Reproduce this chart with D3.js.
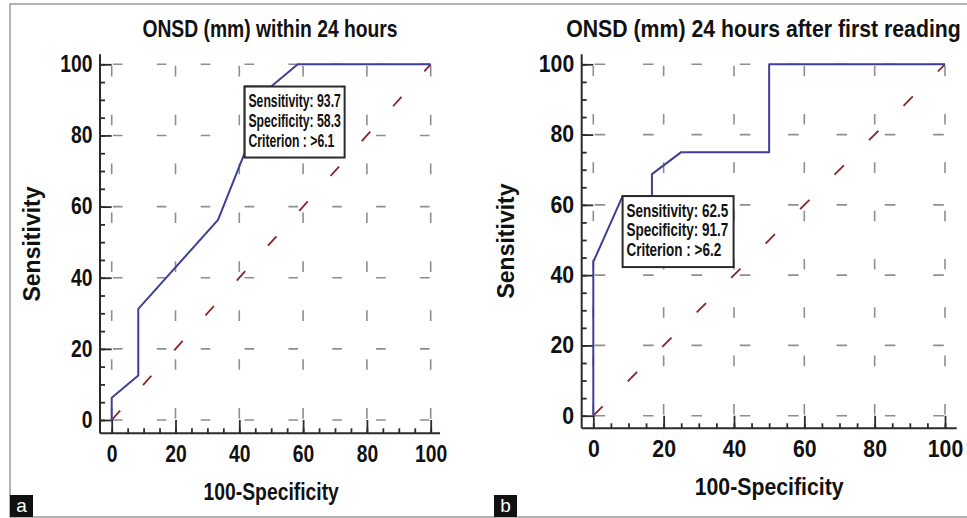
<!DOCTYPE html>
<html>
<head>
<meta charset="utf-8">
<script src="https://cdn.jsdelivr.net/npm/d3@7"></script>
<style>
  body { margin: 0; background: #fff; }
  svg { display: block; }
</style>
</head>
<body>
<script>
// ROC points (100-specificity, sensitivity)
const fprA = [0, 0, 8.33, 8.33, 33.33, 41.67, 41.67, 50, 58.33, 100];
const sensA = [0, 6.25, 12.5, 31.25, 56.25, 75, 93.75, 93.75, 100, 100];
const fprB = [0, 0, 8.33, 16.67, 16.67, 25, 50, 50, 100];
const sensB = [0, 43.75, 62.5, 62.5, 68.75, 75, 75, 100, 100];

const titles = ["ONSD (mm) within 24 hours", "ONSD (mm) 24 hours after first reading"];
const panelLetters = ["a", "b"];
const critA = [41.67, 93.75];
const critB = [8.33, 62.5];
const boxTextA = ["Sensitivity: 93.7", "Specificity: 58.3", "Criterion : >6.1"];
const boxTextB = ["Sensitivity: 62.5", "Specificity: 91.7", "Criterion : >6.2"];
const majorTicks = [0, 20, 40, 60, 80, 100];
const minorTicks = d3.range(0, 101, 5);
const diagonal = [0, 100];
const xTitle = "100-Specificity";
const yTitle = "Sensitivity";

const width = 967;
const height = 518;
const font = "'Liberation Sans', Arial, sans-serif";

const svg = d3
  .select("body")
  .append("svg")
  .attr("width", width)
  .attr("height", height);

// outer frame (no right edge visible)
svg.append("path")
  .attr("d", "M980,4H10V517H980")
  .attr("fill", "none")
  .attr("stroke", "#9a9a9a")
  .attr("stroke-width", 1.5);

const layout = [
  { left: 100, x0: 111.7, x100: 430.7, right: 440, y100: 64.3, y0: 420, bottom: 433.3,
    sx: 0.84, boxSx: 0.68, boxW: 100, titleX: 270, yTitleX: 40, yTitleY: 244, xTitleY: 500, letterX: 10 },
  { left: 581.7, x0: 593.3, x100: 945, right: 956.7, y100: 64.3, y0: 415.7, bottom: 428.3,
    sx: 0.925, boxSx: 0.75, boxW: 111, titleX: 763.5, yTitleX: 513.5, yTitleY: 241, xTitleY: 495, letterX: 494 },
];

const panels = [
  { fpr: fprA, sens: sensA, crit: critA, box: boxTextA },
  { fpr: fprB, sens: sensB, crit: critB, box: boxTextB },
];

function label(g, x, y, s, opt) {
  const o = Object.assign({ size: 23, anchor: "middle", sx: 1, rot: 0, weight: "bold", fill: "#111" }, opt);
  return g.append("text")
    .attr("transform", `translate(${x},${y}) rotate(${o.rot}) scale(${o.sx},1)`)
    .attr("text-anchor", o.anchor)
    .attr("font-family", font)
    .attr("font-weight", o.weight)
    .attr("font-size", o.size)
    .attr("fill", o.fill)
    .text(s);
}

panels.forEach((p, i) => {
  const L = layout[i];
  const g = svg.append("g");

  const x = d3.scaleLinear().domain([0, 100]).range([L.x0, L.x100]);
  const y = d3.scaleLinear().domain([0, 100]).range([L.y0, L.y100]);

  // dashed grid, dashes every 13.75 units starting near each end
  const gridStroke = "#8e8e8e";
  const px = (v) => x(v) - x(0);
  const py = (v) => y(0) - y(v);
  g.append("g")
    .selectAll("line")
    .data(majorTicks)
    .join("line")
    .attr("x1", x(0)).attr("x2", x(100))
    .attr("y1", (d) => y(d)).attr("y2", (d) => y(d))
    .attr("stroke", gridStroke)
    .attr("stroke-width", 1.6)
    .attr("stroke-dasharray", `${px(3)} ${px(10.75)}`)
    .attr("stroke-dashoffset", -px(0.4));
  g.append("g")
    .selectAll("line")
    .data(majorTicks)
    .join("line")
    .attr("x1", (d) => x(d)).attr("x2", (d) => x(d))
    .attr("y1", y(100)).attr("y2", y(0))
    .attr("stroke", gridStroke)
    .attr("stroke-width", 1.6)
    .attr("stroke-dasharray", `${py(3)} ${py(10.75)}`)
    .attr("stroke-dashoffset", -py(0.4));

  // axes
  const axisColor = "#2b2b2b";
  g.append("line")
    .attr("x1", L.left).attr("x2", L.left)
    .attr("y1", L.y100 - 10).attr("y2", L.bottom)
    .attr("stroke", axisColor).attr("stroke-width", 2);
  g.append("line")
    .attr("x1", L.left).attr("x2", L.right)
    .attr("y1", L.bottom).attr("y2", L.bottom)
    .attr("stroke", axisColor).attr("stroke-width", 2);

  const yMinor = g.append("g")
    .attr("transform", `translate(${L.left},0)`)
    .call(d3.axisLeft(y).tickValues(minorTicks).tickSize(-5).tickFormat(""));
  const yMajor = g.append("g")
    .attr("transform", `translate(${L.left},0)`)
    .call(d3.axisLeft(y).tickValues(majorTicks).tickSize(-(L.x0 - L.left)).tickPadding(7.5 / L.sx));
  const xMinor = g.append("g")
    .attr("transform", `translate(0,${L.bottom})`)
    .call(d3.axisBottom(x).tickValues(minorTicks).tickSize(-5).tickFormat(""));
  const xMajor = g.append("g")
    .attr("transform", `translate(0,${L.bottom})`)
    .call(d3.axisBottom(x).tickValues(majorTicks).tickSize(-(L.bottom - L.y0)).tickPadding(12.5));

  [yMinor, yMajor, xMinor, xMajor].forEach((a) => {
    a.select(".domain").remove();
    a.attr("color", axisColor)
      .attr("font-family", font)
      .attr("font-size", 23)
      .attr("font-weight", "bold");
    a.selectAll(".tick line").attr("stroke-width", 1.8);
    a.selectAll(".tick text").attr("fill", "#111");
  });
  yMajor.selectAll(".tick text").attr("transform", `scale(${L.sx},1)`);
  xMajor.selectAll(".tick text").attr("transform", `scale(${L.sx},1)`);

  // chance diagonal, short red dashes roughly every 9.8 units
  const seg = Math.hypot(x(9.8) - x(0), y(0) - y(9.8));
  g.append("line")
    .attr("x1", x(diagonal[0])).attr("y1", y(diagonal[0]))
    .attr("x2", x(diagonal[1])).attr("y2", y(diagonal[1]))
    .attr("stroke", "#8a2424")
    .attr("stroke-width", 1.8)
    .attr("stroke-dasharray", `${seg * 0.27} ${seg * 0.73}`);

  // ROC curve
  const line = d3.line().x((d) => x(d[0])).y((d) => y(d[1]));
  g.append("path")
    .datum(d3.zip(p.fpr, p.sens))
    .attr("d", line)
    .attr("fill", "none")
    .attr("stroke", "#3f3f98")
    .attr("stroke-width", 2)
    .attr("stroke-linejoin", "round");

  // criterion box anchored at its top-left on the optimal point
  const bx = x(p.crit[0]);
  const by = y(p.crit[1]);
  g.append("rect")
    .attr("x", bx).attr("y", by)
    .attr("width", L.boxW).attr("height", 71)
    .attr("fill", "#fff")
    .attr("stroke", "#2a2a2a")
    .attr("stroke-width", 2);
  p.box.forEach((s, j) => {
    label(g, bx + 3.8, by + 20.5 + j * 19.8, s, { size: 18, anchor: "start", sx: L.boxSx });
  });

  // titles
  label(g, L.titleX, 37, titles[i], { sx: L.sx });
  label(g, (L.x0 + L.x100) / 2, L.xTitleY, xTitle, { sx: L.sx });
  label(g, L.yTitleX, L.yTitleY, yTitle, { rot: -90 });

  // panel letter
  g.append("rect")
    .attr("x", L.letterX).attr("y", 495)
    .attr("width", 23).attr("height", 22)
    .attr("fill", "#111");
  label(g, L.letterX + 11.5, 512, panelLetters[i], { size: 19, weight: "normal", fill: "#fff" });
});
</script>
</body>
</html>
